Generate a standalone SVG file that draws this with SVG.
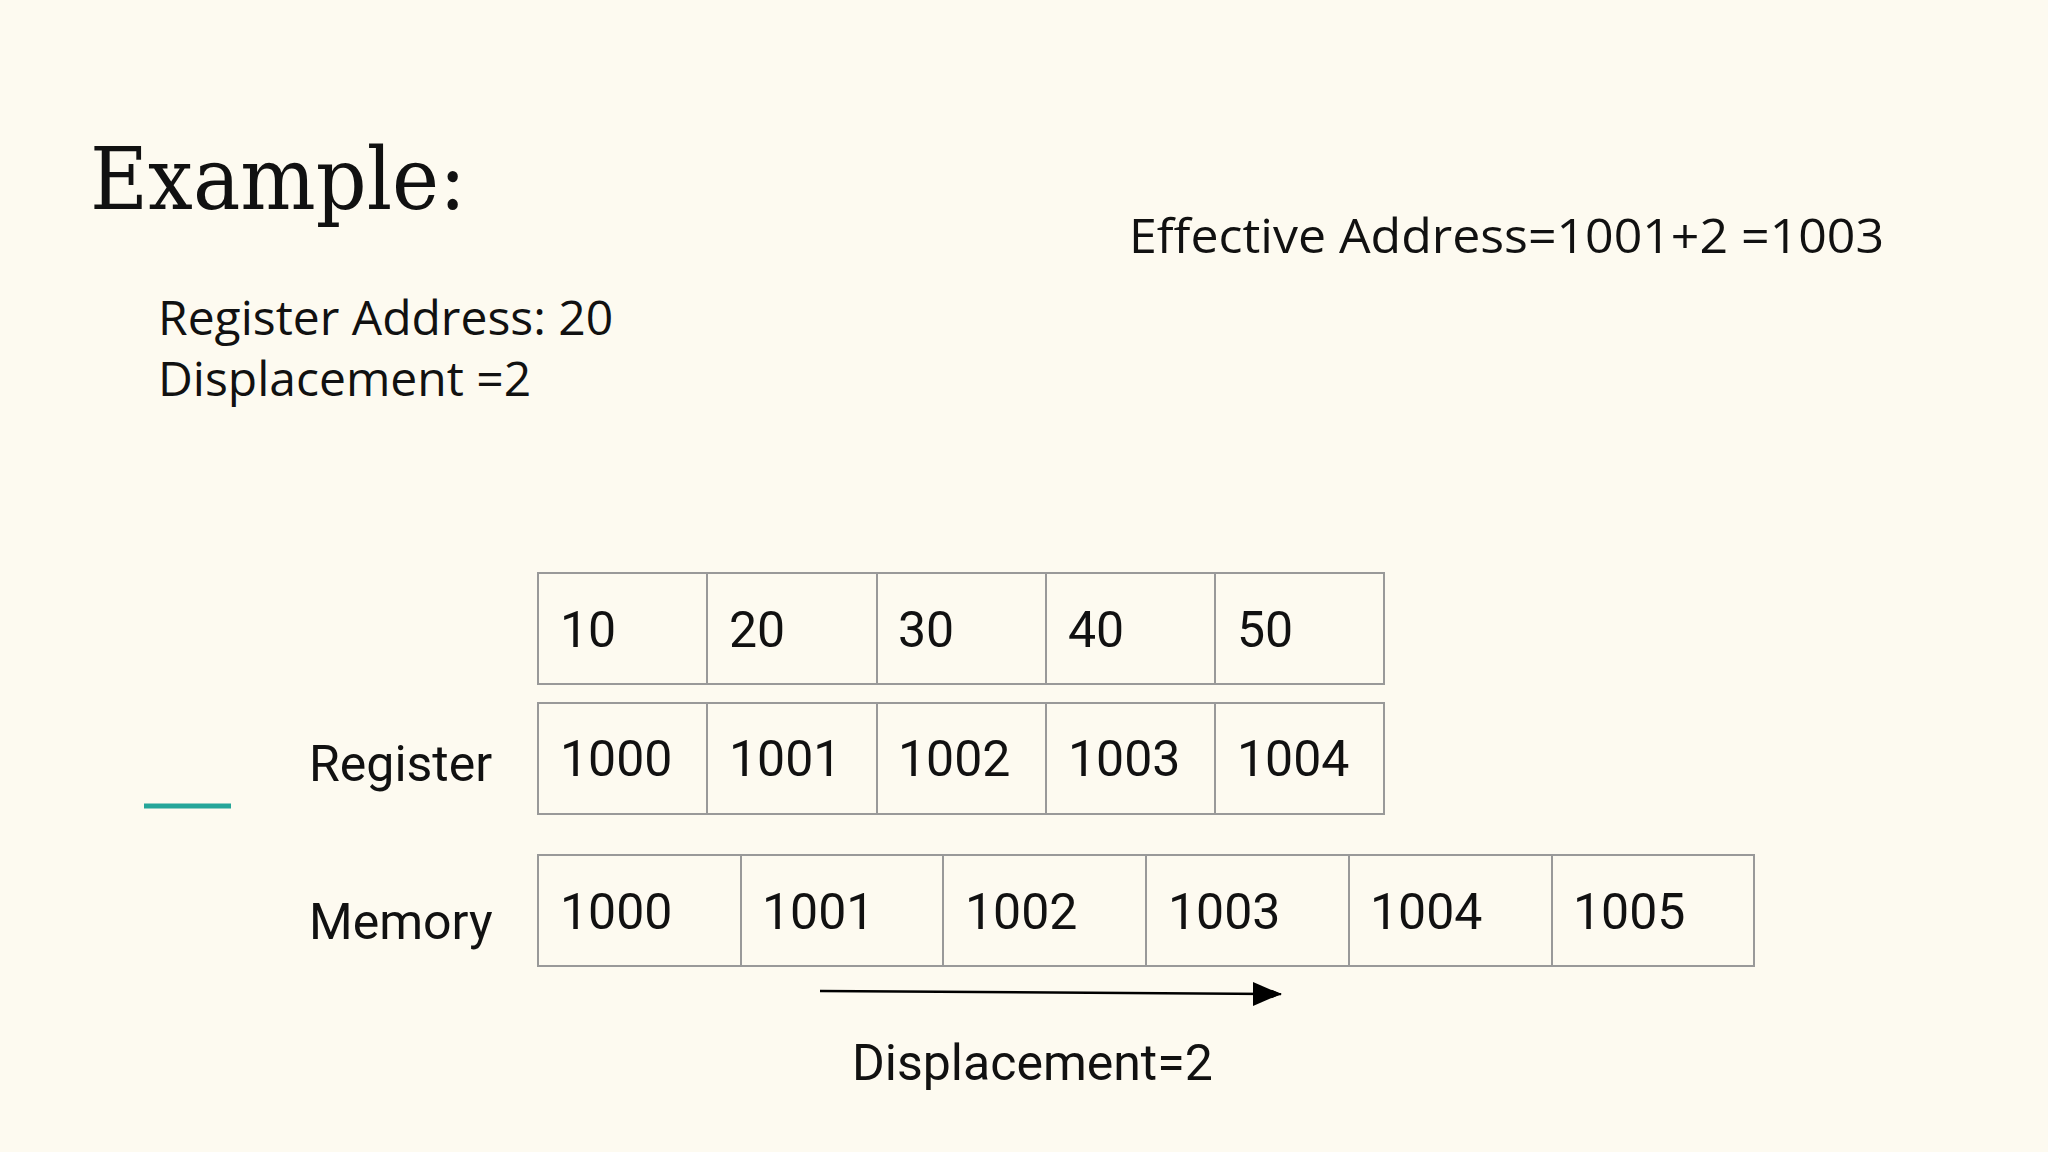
<svg xmlns="http://www.w3.org/2000/svg" width="2048" height="1152" viewBox="0 0 2048 1152">
<style>
.t{font-family:"Open Sans","Noto Sans",sans-serif;font-size:48px;fill:#111}
.n{font-family:Roboto,"Noto Sans",sans-serif;font-size:50px;fill:#111}
.c{fill:none;stroke:#999;stroke-width:2}
</style>
<defs><marker id="ah" markerWidth="10" markerHeight="8" refX="9" refY="4" orient="auto" markerUnits="userSpaceOnUse" viewBox="0 0 10 8"><path d="M0,0L10,4L0,8z" fill="#000"/></marker></defs>
<rect width="2048" height="1152" fill="#fdfaf0"/>
<text x="90" y="209" font-family="'DejaVu Serif','Liberation Serif',serif" font-size="86" textLength="376" lengthAdjust="spacingAndGlyphs" fill="#111">Example:</text>
<text class="t" x="158" y="335">Register Address: 20</text>
<text class="t" x="158" y="396">Displacement =2</text>
<text class="t" x="1129" y="253" textLength="755" lengthAdjust="spacingAndGlyphs">Effective Address=1001+2 =1003</text>
<line x1="144" y1="806" x2="231" y2="806" stroke="#26a69a" stroke-width="5"/>
<text class="n" x="309" y="781">Register</text>
<text class="n" x="309" y="939">Memory</text>
<g id="regtop">
<rect class="c" x="538" y="573" width="846" height="111"/>
<path class="c" d="M707,573V684M877,573V684M1046,573V684M1215,573V684"/>
<text class="n" x="560" y="647">10</text><text class="n" x="729" y="647">20</text><text class="n" x="898" y="647">30</text><text class="n" x="1068" y="647">40</text><text class="n" x="1237" y="647">50</text>
</g>
<g id="regaddr">
<rect class="c" x="538" y="703" width="846" height="111"/>
<path class="c" d="M707,703V814M877,703V814M1046,703V814M1215,703V814"/>
<text class="n" x="560" y="776">1000</text><text class="n" x="729" y="776">1001</text><text class="n" x="898" y="776">1002</text><text class="n" x="1068" y="776">1003</text><text class="n" x="1237" y="776">1004</text>
</g>
<g id="memory">
<rect class="c" x="538" y="855" width="1216" height="111"/>
<path class="c" d="M741,855V966M943,855V966M1146,855V966M1349,855V966M1552,855V966"/>
<text class="n" x="560" y="929">1000</text><text class="n" x="762" y="929">1001</text><text class="n" x="965" y="929">1002</text><text class="n" x="1168" y="929">1003</text><text class="n" x="1370" y="929">1004</text><text class="n" x="1573" y="929">1005</text>
</g>
<g id="connectors">
<line x1="820" y1="991" x2="1281" y2="994" stroke="#000" stroke-width="2.5" marker-end="url(#ah)"/>
</g>
<path d="M1253,982L1281,994L1253,1006z" fill="#000"/>
<text class="n" x="852" y="1080">Displacement=2</text>
</svg>
